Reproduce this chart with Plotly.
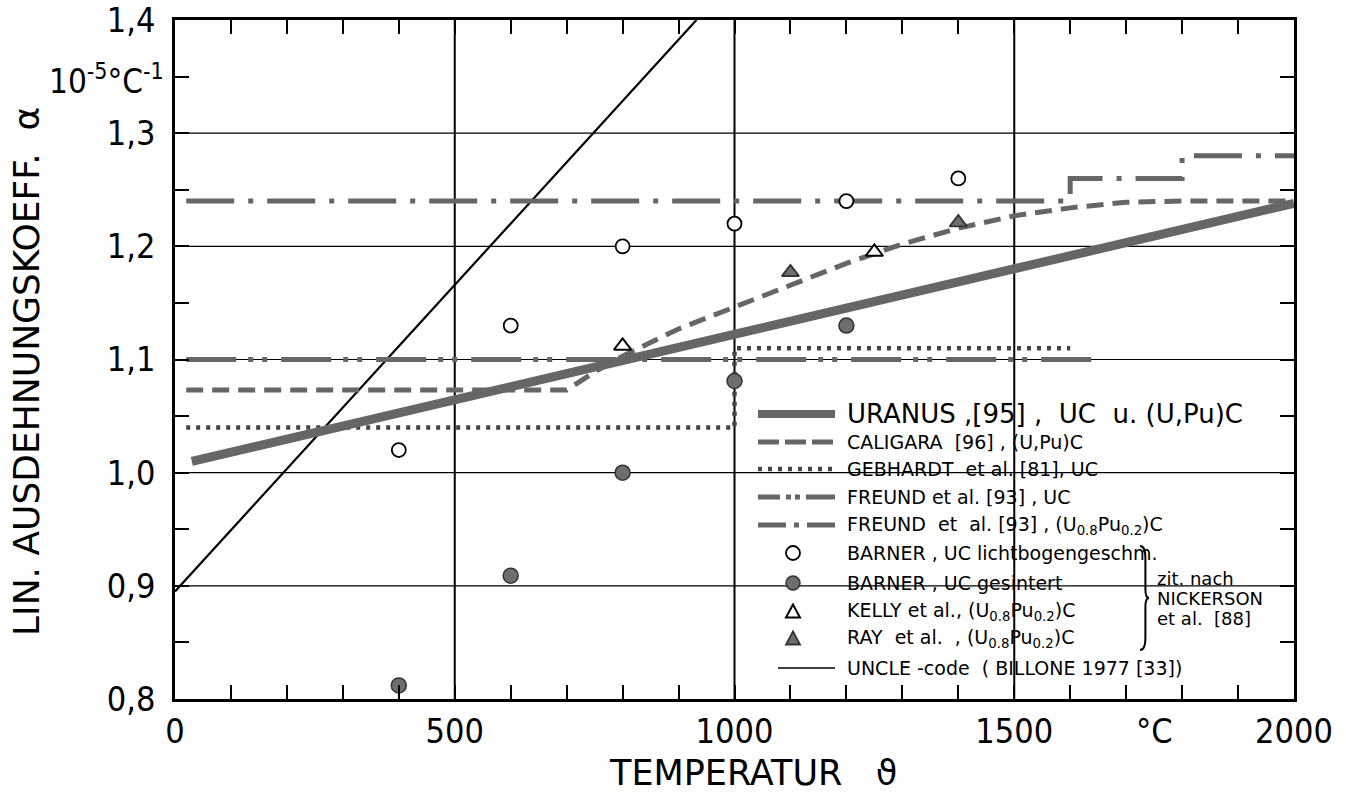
import plotly.graph_objects as go

# ---------------- data ----------------
uranus_x = [30, 2000]
uranus_y = [1.010, 1.238]

caligara_x = [20, 700, 750, 800, 900, 1000, 1100, 1200, 1300, 1400, 1500, 1600, 1700, 1800, 2000]
caligara_y = [1.073, 1.073, 1.089, 1.103, 1.127, 1.146, 1.166, 1.185, 1.202, 1.216, 1.227, 1.234, 1.239, 1.240, 1.240]

gebhardt_x = [20, 1000, 1000, 1600]
gebhardt_y = [1.04, 1.04, 1.11, 1.11]

freund_uc_x = [20, 1650]
freund_uc_y = [1.10, 1.10]

freund_upu_x = [20, 1600, 1600, 1800, 1800, 2000]
freund_upu_y = [1.24, 1.24, 1.26, 1.26, 1.28, 1.28]

barner_arc_x = [400, 600, 800, 1000, 1200, 1400]
barner_arc_y = [1.02, 1.13, 1.20, 1.22, 1.24, 1.26]

barner_sint_x = [400, 600, 800, 1000, 1200]
barner_sint_y = [0.812, 0.909, 1.00, 1.081, 1.13]

kelly_x = [800, 1250]
kelly_y = [1.112, 1.195]

ray_x = [1100, 1400]
ray_y = [1.177, 1.221]

uncle_x = [0, 932]
uncle_y = [0.895, 1.40]

# ticks every 100 / 0.05, labels only at the major values
x_tickvals = [100 * k for k in range(21)]
x_ticktext = [str(v) if v % 500 == 0 else "" for v in x_tickvals]
y_tickvals = [round(0.8 + 0.05 * k, 2) for k in range(13)]
y_ticktext = [("%.1f" % v).replace(".", ",") if k % 2 == 0 else "" for k, v in enumerate(y_tickvals)]
x_grid = [500, 1000, 1500]
y_grid = [0.9, 1.0, 1.1, 1.2, 1.3]

legend_labels = [
    "URANUS ,[95] ,\u00a0\u00a0UC\u00a0\u00a0u. (U,Pu)C",
    "CALIGARA\u00a0\u00a0[96] , (U,Pu)C",
    "GEBHARDT\u00a0\u00a0et al. [81], UC",
    "FREUND et al. [93] , UC",
    "FREUND\u00a0\u00a0et\u00a0\u00a0al. [93] , (U<sub>0.8</sub>Pu<sub>0.2</sub>)C",
    "BARNER , UC lichtbogengeschm.",
    "BARNER , UC gesintert",
    "KELLY et al., (U<sub>0.8</sub>Pu<sub>0.2</sub>)C",
    "RAY\u00a0\u00a0et al.\u00a0\u00a0, (U<sub>0.8</sub>Pu<sub>0.2</sub>)C",
    "UNCLE -code\u00a0\u00a0( BILLONE 1977 [33])",
]

# ---------------- styling ----------------
FONT = "DejaVu Sans Condensed, Liberation Sans Narrow, Arial Narrow, sans-serif"
FONTW = "DejaVu Sans, Verdana, sans-serif"
GRAY = "#666666"
L, R, T, B = 175, 1294, 20, 699   # plot area in pixels
XR = [0, 2000]
YR = [0.79999, 1.40001]


def PX(px):
    return (px - L) / (R - L)


def PY(py):
    return (B - py) / (B - T)


fig = go.Figure()

fig.add_trace(go.Scatter(x=uncle_x, y=uncle_y, mode="lines",
                         line=dict(color="black", width=2.2)))
fig.add_trace(go.Scatter(x=freund_upu_x, y=freund_upu_y, mode="lines",
                         line=dict(color=GRAY, width=5, dash="48px,14px,5px,14px")))
fig.add_trace(go.Scatter(x=freund_uc_x, y=freund_uc_y, mode="lines",
                         line=dict(color=GRAY, width=5, dash="50px,12px,5px,9px,5px,14px")))
fig.add_trace(go.Scatter(x=gebhardt_x, y=gebhardt_y, mode="lines",
                         line=dict(color="#444444", width=4.5, dash="4px,6px")))
fig.add_trace(go.Scatter(x=caligara_x, y=caligara_y, mode="lines",
                         line=dict(color=GRAY, width=5, dash="17px,9px")))
fig.add_trace(go.Scatter(x=uranus_x, y=uranus_y, mode="lines",
                         line=dict(color=GRAY, width=9)))

fig.add_trace(go.Scatter(x=barner_arc_x, y=barner_arc_y, mode="markers",
                         marker=dict(symbol="circle", size=14, color="white",
                                     line=dict(color="black", width=1.8))))
fig.add_trace(go.Scatter(x=barner_sint_x, y=barner_sint_y, mode="markers",
                         marker=dict(symbol="circle", size=15, color="#6e6e6e",
                                     line=dict(color="#333333", width=1.5))))
fig.add_trace(go.Scatter(x=kelly_x, y=kelly_y, mode="markers",
                         marker=dict(symbol="triangle-up", size=15, color="white",
                                     line=dict(color="black", width=2))))
fig.add_trace(go.Scatter(x=ray_x, y=ray_y, mode="markers",
                         marker=dict(symbol="triangle-up", size=15, color="#6e6e6e",
                                     line=dict(color="#333333", width=1.8))))

shapes = []
annotations = []

# grid lines (only at the labelled values)
for gx in x_grid:
    shapes.append(dict(type="line", xref="x", yref="paper", x0=gx, x1=gx, y0=0, y1=1,
                       layer="below", line=dict(color="black", width=2)))
for gy in y_grid:
    shapes.append(dict(type="line", xref="paper", yref="y", x0=0, x1=1, y0=gy, y1=gy,
                       layer="below", line=dict(color="black", width=1.2)))

# ---------------- legend (drawn manually) ----------------
row_y = [414, 442, 469, 497, 525, 553, 583, 611, 638, 668]
ls_x0, ls_x1 = 758, 835
line_styles = [
    dict(color=GRAY, width=8),
    dict(color=GRAY, width=5, dash="21px,6px"),
    dict(color="#444444", width=4.5, dash="4px,6px"),
    dict(color=GRAY, width=5, dash="22px,6px,5px,4px,5px,6px,40px"),
    dict(color=GRAY, width=5, dash="28px,8px,5px,8px,40px"),
]
for i, st in enumerate(line_styles):
    shapes.append(dict(type="line", xref="paper", yref="paper",
                       x0=PX(ls_x0), x1=PX(ls_x1), y0=PY(row_y[i]), y1=PY(row_y[i]),
                       line=st))
shapes.append(dict(type="line", xref="paper", yref="paper",
                   x0=PX(778), x1=PX(835), y0=PY(row_y[9]), y1=PY(row_y[9]),
                   line=dict(color="black", width=1.5)))
mx = 793
r = 7
shapes.append(dict(type="circle", xref="paper", yref="paper",
                   x0=PX(mx - r), x1=PX(mx + r), y0=PY(row_y[5] + r), y1=PY(row_y[5] - r),
                   line=dict(color="black", width=1.8), fillcolor="white"))
shapes.append(dict(type="circle", xref="paper", yref="paper",
                   x0=PX(mx - r), x1=PX(mx + r), y0=PY(row_y[6] + r), y1=PY(row_y[6] - r),
                   line=dict(color="#333333", width=1.5), fillcolor="#6e6e6e"))


def tri_path(cx, cy, h=13, w=14):
    pts = [(cx, cy - h / 2), (cx - w / 2, cy + h / 2), (cx + w / 2, cy + h / 2)]
    return "M {} {} L {} {} L {} {} Z".format(*[v for p in pts for v in (PX(p[0]), PY(p[1]))])


shapes.append(dict(type="path", xref="paper", yref="paper", path=tri_path(mx, row_y[7]),
                   line=dict(color="black", width=2), fillcolor="white"))
shapes.append(dict(type="path", xref="paper", yref="paper", path=tri_path(mx, row_y[8]),
                   line=dict(color="#333333", width=1.8), fillcolor="#6e6e6e"))

for i, txt in enumerate(legend_labels):
    annotations.append(dict(xref="paper", yref="paper", x=PX(845), y=PY(row_y[i]),
                            xanchor="left", yanchor="middle", showarrow=False, text=txt,
                            font=dict(family=FONTW, size=26 if i == 0 else 19, color="black")))

# brace
bx, btop, bbot, bmid, bw = 1140, 546, 650, 598, 9
brace = ("M {a} {b} Q {c} {b} {c} {d} L {c} {e} Q {c} {f} {g} {f} "
         "Q {c} {f} {c} {h} L {c} {i} Q {c} {j} {a} {j}").format(
    a=PX(bx), b=PY(btop), c=PX(bx + bw * 0.6), d=PY(btop + 12), e=PY(bmid - 9),
    f=PY(bmid), g=PX(bx + bw), h=PY(bmid + 9), i=PY(bbot - 12), j=PY(bbot))
shapes.append(dict(type="path", xref="paper", yref="paper", path=brace,
                   line=dict(color="black", width=2)))
for txt, yy in [("zit. nach", 578), ("NICKERSON", 598), ("et al.\u00a0\u00a0[88]", 618)]:
    annotations.append(dict(xref="paper", yref="paper", x=PX(1155), y=PY(yy),
                            xanchor="left", yanchor="middle", showarrow=False, text=txt,
                            font=dict(family=FONTW, size=18, color="black")))

# axis titles, units
annotations.append(dict(xref="paper", yref="paper", x=PX(27), y=PY(372), textangle=-90,
                        xanchor="center", yanchor="middle", showarrow=False,
                        text="LIN. AUSDEHNUNGSKOEFF.\u00a0\u00a0α",
                        font=dict(family=FONTW, size=36, color="black")))
annotations.append(dict(xref="paper", yref="paper", x=PX(753), y=PY(773),
                        xanchor="center", yanchor="middle", showarrow=False,
                        text="TEMPERATUR\u00a0\u00a0\u00a0ϑ",
                        font=dict(family=FONTW, size=35, color="black")))
annotations.append(dict(xref="x", yref="paper", x=1750, y=PY(731),
                        xanchor="center", yanchor="middle", showarrow=False,
                        text="°C", font=dict(family=FONT, size=34, color="black")))
annotations.append(dict(xref="paper", yref="paper", x=PX(166), y=PY(79),
                        xanchor="right", yanchor="middle", showarrow=False,
                        text="10<sup>-5</sup>°C<sup>-1</sup>",
                        font=dict(family=FONT, size=33, color="black")))

fig.update_layout(
    width=1346, height=794,
    margin=dict(l=L, r=1346 - R, t=T, b=794 - B, pad=0, autoexpand=False),
    paper_bgcolor="white", plot_bgcolor="white",
    showlegend=False,
    shapes=shapes, annotations=annotations,
    font=dict(family=FONT, color="black"),
    xaxis=dict(range=XR, tickmode="array", tickvals=x_tickvals, ticktext=x_ticktext,
               automargin=False, ticks="inside", ticklen=14, tickwidth=2, tickcolor="black",
               showgrid=False, showline=True, linecolor="black", linewidth=2.5,
               mirror="allticks",
               tickfont=dict(family=FONT, size=34, color="black"), ticklabelstandoff=0,
               ticklabeloverflow="allow", zeroline=False),
    yaxis=dict(range=YR, tickmode="array", tickvals=y_tickvals, ticktext=y_ticktext,
               automargin=False, ticks="inside", ticklen=14, tickwidth=2, tickcolor="black",
               showgrid=False, showline=True, linecolor="black", linewidth=2.5,
               mirror="allticks",
               tickfont=dict(family=FONT, size=34, color="black"), ticklabelstandoff=10,
               ticklabeloverflow="allow", zeroline=False),
)

fig.write_html("out.html")
